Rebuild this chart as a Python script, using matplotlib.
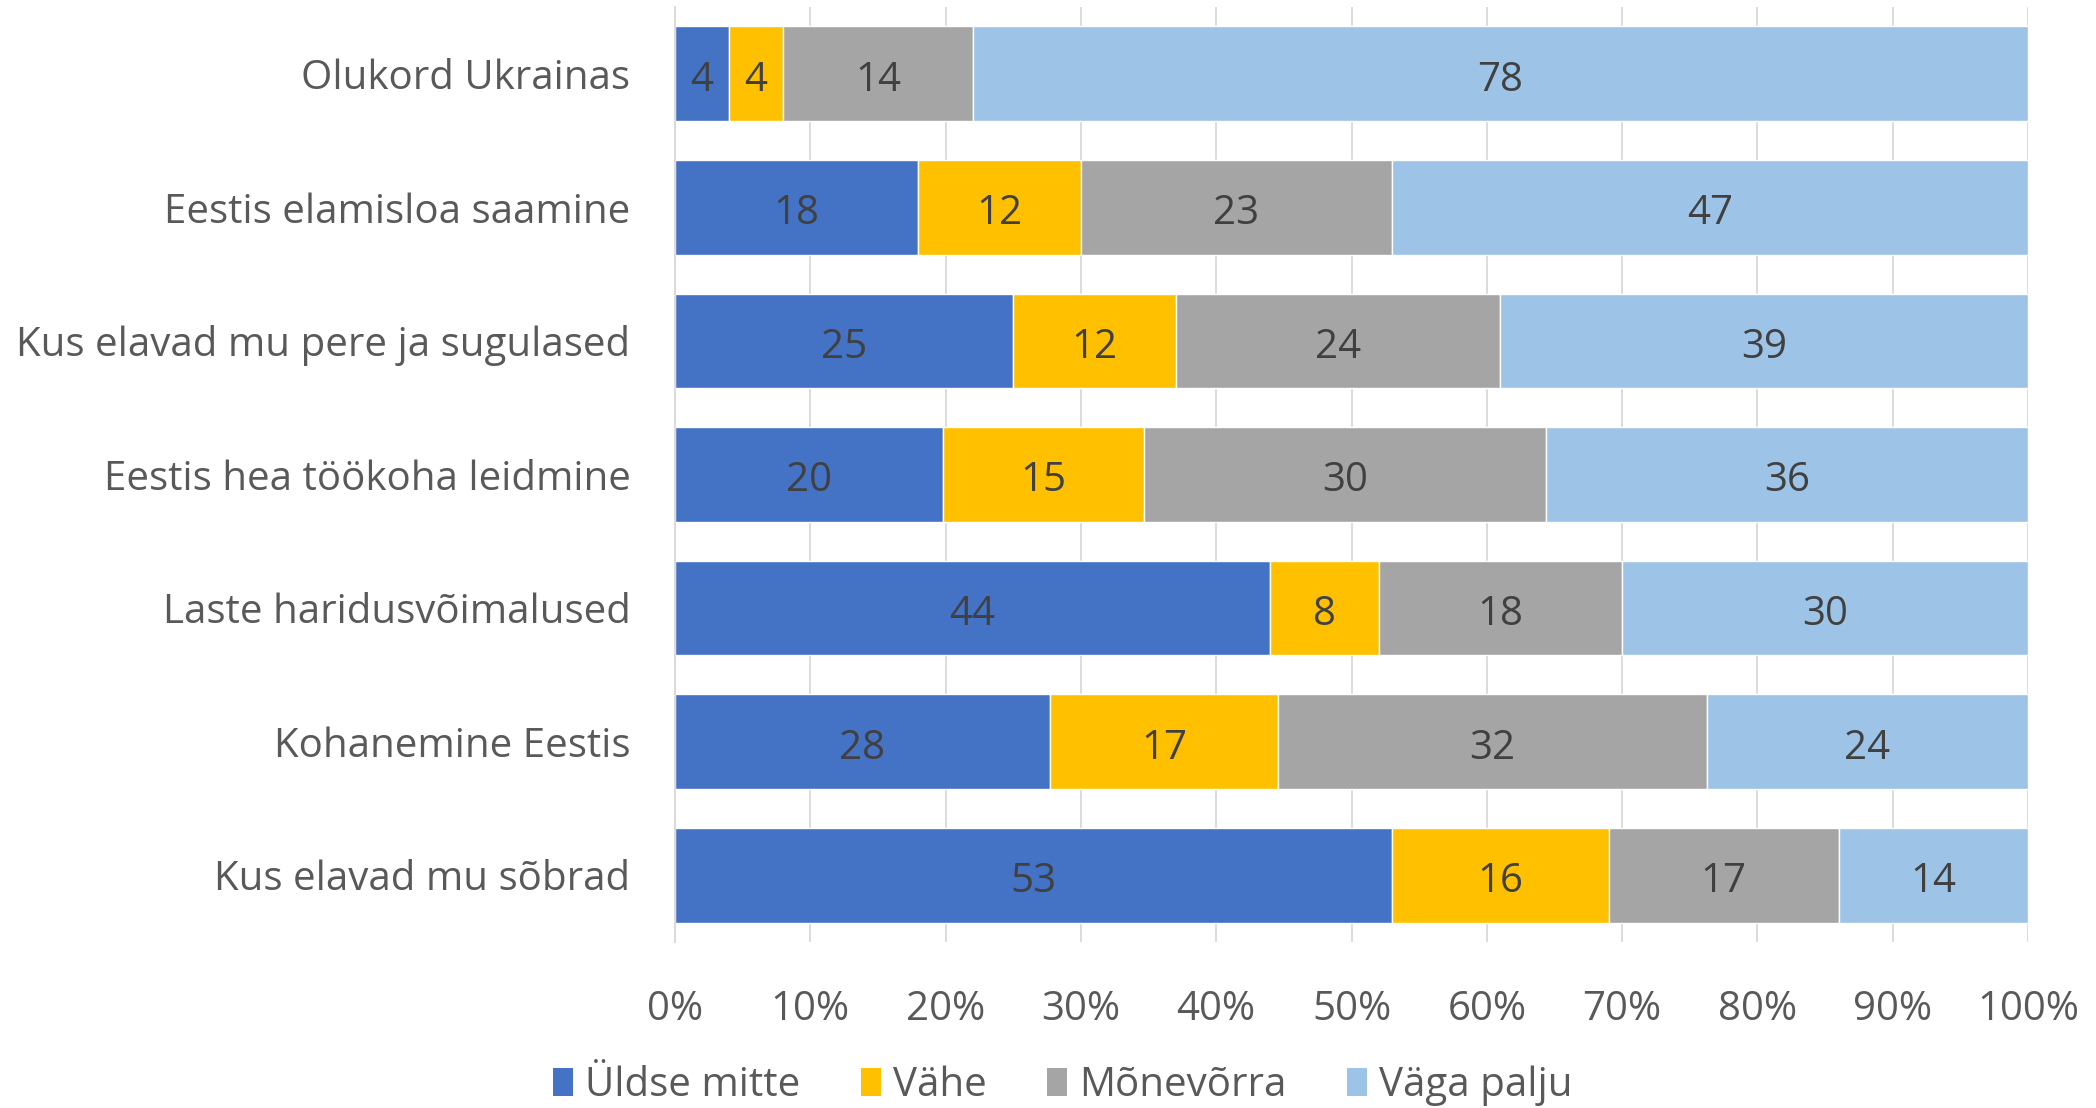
import matplotlib
matplotlib.use("Agg")
import matplotlib.pyplot as plt
import numpy as np
from matplotlib.patches import Patch
from matplotlib.ticker import PercentFormatter

plt.rcParams['font.family'] = ['Open Sans', 'DejaVu Sans']

categories = [
    "Olukord Ukrainas",
    "Eestis elamisloa saamine",
    "Kus elavad mu pere ja sugulased",
    "Eestis hea töökoha leidmine",
    "Laste haridusvõimalused",
    "Kohanemine Eestis",
    "Kus elavad mu sõbrad",
]
series_names = ["Üldse mitte", "Vähe", "Mõnevõrra", "Väga palju"]
uldse_mitte = [4, 18, 25, 20, 44, 28, 53]
vahe = [4, 12, 12, 15, 8, 17, 16]
monevorra = [14, 23, 24, 30, 18, 32, 17]
vaga_palju = [78, 47, 39, 36, 30, 24, 14]
colors = ["#4472C4", "#FFC000", "#A5A5A5", "#9DC3E6"]

data = np.array([uldse_mitte, vahe, monevorra, vaga_palju], dtype=float)
totals = data.sum(axis=0)
shares = data / totals * 100

fig = plt.figure(figsize=(20.96, 11.08), dpi=100)
ax = fig.add_axes([0.322, 0.1498, 0.6456, 0.8439])

y = np.arange(len(categories))
left = np.zeros(len(categories))
for i, name in enumerate(series_names):
    bars = ax.barh(y, shares[i], left=left, height=0.71, color=colors[i],
                   edgecolor="white", linewidth=1, label=name, zorder=2)
    for j, b in enumerate(bars):
        ax.text(left[j] + shares[i][j] / 2, y[j] + 0.05, "%d" % data[i][j],
                ha="center", va="center", fontsize=29, color="#404040", zorder=3)
    left += shares[i]

ax.set_xlim(0, 100)
ax.set_ylim(6.5, -0.5)
ax.set_xticks(np.arange(0, 101, 10))
ax.xaxis.set_major_formatter(PercentFormatter(decimals=0))
ax.set_yticks(y)
ax.set_yticklabels(categories)
ax.grid(axis="x", color="#D9D9D9", linewidth=1.3, zorder=0)
for s in ["top", "right", "bottom"]:
    ax.spines[s].set_visible(False)
ax.spines["left"].set_color("#D9D9D9")
ax.spines["left"].set_linewidth(1.3)
ax.tick_params(axis="x", length=0, pad=34, labelsize=29, labelcolor="#595959")
ax.tick_params(axis="y", length=0, pad=32, labelsize=29, labelcolor="#595959")

handles = [Patch(facecolor=c, edgecolor="none") for c in colors]
fig.legend(handles, series_names, loc="center", bbox_to_anchor=(0.507, 0.02),
           ncol=4, frameon=False, fontsize=29, labelcolor="#595959",
           handlelength=0.5, handleheight=0.7, handletextpad=0.3,
           columnspacing=1.5)

fig.savefig("out.png", dpi=100)
